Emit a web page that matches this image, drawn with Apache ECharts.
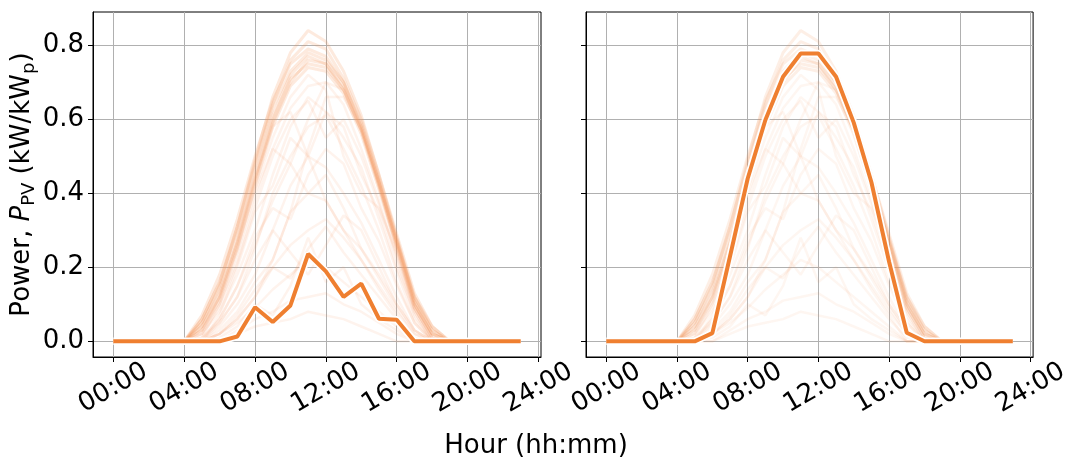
<!DOCTYPE html>
<html>
<head>
<meta charset="utf-8">
<script src="https://cdn.jsdelivr.net/npm/echarts@6.0.0/dist/echarts.min.js"></script>
<style>
  html, body { margin: 0; padding: 0; background: #fff; }
  #chart { width: 1072px; height: 463px; }
</style>
</head>
<body>
<div id="chart"></div>
<script>
// hours of the day, one value per hour
const hours = [0, 1, 2, 3, 4, 5, 6, 7, 8, 9, 10, 11, 12, 13, 14, 15, 16, 17, 18, 19, 20, 21, 22, 23];
const xTicks = [0, 4, 8, 12, 16, 20, 24];
const yTicks = [0, 0.2, 0.4, 0.6, 0.8];

// highlighted day, left panel
const dayLeft = [0, 0, 0, 0, 0, 0, 0, 0.013, 0.092, 0.052, 0.097, 0.236, 0.189, 0.12, 0.156, 0.061, 0.058, 0, 0, 0, 0, 0, 0, 0];
// highlighted day, right panel
const dayRight = [0, 0, 0, 0, 0, 0, 0.022, 0.23, 0.44, 0.598, 0.715, 0.778, 0.778, 0.715, 0.591, 0.43, 0.215, 0.023, 0, 0, 0, 0, 0, 0];

// background days (near clear sky)
const clear1 = [0, 0, 0, 0, 0, 0.06, 0.16, 0.30, 0.47, 0.63, 0.73, 0.78, 0.76, 0.70, 0.59, 0.44, 0.28, 0.12, 0.03, 0, 0, 0, 0, 0];
const clear2 = [0, 0, 0, 0, 0, 0.05, 0.14, 0.28, 0.45, 0.61, 0.72, 0.77, 0.75, 0.68, 0.57, 0.42, 0.26, 0.10, 0.02, 0, 0, 0, 0, 0];
const clear3 = [0, 0, 0, 0, 0, 0.04, 0.12, 0.26, 0.43, 0.59, 0.70, 0.76, 0.75, 0.69, 0.58, 0.43, 0.27, 0.11, 0.03, 0, 0, 0, 0, 0];
const clear4 = [0, 0, 0, 0, 0, 0.03, 0.11, 0.25, 0.42, 0.58, 0.69, 0.74, 0.73, 0.67, 0.56, 0.41, 0.25, 0.09, 0.01, 0, 0, 0, 0, 0];
const clear5 = [0, 0, 0, 0, 0, 0.05, 0.15, 0.31, 0.49, 0.66, 0.78, 0.84, 0.81, 0.73, 0.61, 0.45, 0.28, 0.11, 0.02, 0, 0, 0, 0, 0];
const clear6 = [0, 0, 0, 0, 0, 0.06, 0.16, 0.31, 0.48, 0.64, 0.76, 0.81, 0.79, 0.71, 0.60, 0.45, 0.29, 0.13, 0.04, 0, 0, 0, 0, 0];
const clear7 = [0, 0, 0, 0, 0, 0.04, 0.13, 0.27, 0.44, 0.60, 0.71, 0.75, 0.74, 0.68, 0.57, 0.42, 0.26, 0.10, 0.02, 0, 0, 0, 0, 0];
const clear8 = [0, 0, 0, 0, 0, 0.07, 0.18, 0.33, 0.50, 0.65, 0.75, 0.79, 0.77, 0.70, 0.58, 0.43, 0.27, 0.12, 0.04, 0, 0, 0, 0, 0];
// background days (partly cloudy)
const mid1 = [0, 0, 0, 0, 0, 0.03, 0.10, 0.22, 0.38, 0.52, 0.63, 0.69, 0.70, 0.64, 0.52, 0.38, 0.22, 0.07, 0, 0, 0, 0, 0, 0];
const mid2 = [0, 0, 0, 0, 0, 0.02, 0.08, 0.18, 0.30, 0.45, 0.58, 0.66, 0.62, 0.55, 0.47, 0.33, 0.19, 0.06, 0, 0, 0, 0, 0, 0];
const mid3 = [0, 0, 0, 0, 0, 0, 0.05, 0.12, 0.25, 0.40, 0.50, 0.58, 0.61, 0.52, 0.42, 0.30, 0.16, 0.05, 0, 0, 0, 0, 0, 0];
const mid4 = [0, 0, 0, 0, 0, 0, 0.07, 0.20, 0.35, 0.42, 0.55, 0.50, 0.62, 0.58, 0.45, 0.35, 0.20, 0.08, 0, 0, 0, 0, 0, 0];
const mid5 = [0, 0, 0, 0, 0, 0, 0.04, 0.10, 0.18, 0.30, 0.42, 0.50, 0.47, 0.40, 0.32, 0.22, 0.12, 0.03, 0, 0, 0, 0, 0, 0];
const mid6 = [0, 0, 0, 0, 0, 0, 0.06, 0.15, 0.28, 0.36, 0.33, 0.45, 0.52, 0.48, 0.36, 0.27, 0.15, 0.05, 0, 0, 0, 0, 0, 0];
const mid7 = [0, 0, 0, 0, 0, 0, 0.03, 0.08, 0.16, 0.22, 0.35, 0.40, 0.38, 0.30, 0.25, 0.17, 0.09, 0.02, 0, 0, 0, 0, 0, 0];
const mid8 = [0, 0, 0, 0, 0, 0, 0.02, 0.06, 0.12, 0.20, 0.26, 0.30, 0.33, 0.28, 0.22, 0.14, 0.07, 0, 0, 0, 0, 0, 0, 0];
const mid9 = [0, 0, 0, 0, 0, 0.02, 0.12, 0.27, 0.44, 0.58, 0.62, 0.50, 0.38, 0.30, 0.22, 0.15, 0.08, 0.02, 0, 0, 0, 0, 0, 0];
const mid10 = [0, 0, 0, 0, 0, 0, 0.02, 0.06, 0.12, 0.22, 0.35, 0.52, 0.66, 0.66, 0.57, 0.43, 0.27, 0.10, 0.01, 0, 0, 0, 0, 0];
const mid11 = [0, 0, 0, 0, 0, 0.01, 0.10, 0.24, 0.40, 0.52, 0.48, 0.40, 0.45, 0.36, 0.25, 0.18, 0.10, 0.03, 0, 0, 0, 0, 0, 0];
const mid12 = [0, 0, 0, 0, 0, 0.02, 0.09, 0.21, 0.36, 0.50, 0.60, 0.65, 0.55, 0.60, 0.50, 0.37, 0.23, 0.08, 0, 0, 0, 0, 0, 0];
const mid13 = [0, 0, 0, 0, 0, 0.03, 0.12, 0.25, 0.41, 0.55, 0.66, 0.72, 0.68, 0.50, 0.40, 0.36, 0.24, 0.09, 0.01, 0, 0, 0, 0, 0];
const mid14 = [0, 0, 0, 0, 0, 0.01, 0.06, 0.15, 0.26, 0.38, 0.48, 0.60, 0.70, 0.68, 0.58, 0.42, 0.25, 0.09, 0.01, 0, 0, 0, 0, 0];
// background days (overcast)
const low1 = [0, 0, 0, 0, 0, 0, 0.02, 0.05, 0.09, 0.14, 0.18, 0.22, 0.20, 0.16, 0.12, 0.08, 0.04, 0, 0, 0, 0, 0, 0, 0];
const low2 = [0, 0, 0, 0, 0, 0, 0, 0.03, 0.06, 0.08, 0.11, 0.12, 0.13, 0.10, 0.08, 0.05, 0.02, 0, 0, 0, 0, 0, 0, 0];
const low3 = [0, 0, 0, 0, 0, 0, 0.01, 0.04, 0.10, 0.07, 0.15, 0.28, 0.16, 0.20, 0.10, 0.06, 0.03, 0, 0, 0, 0, 0, 0, 0];
const low4 = [0, 0, 0, 0, 0, 0, 0, 0.02, 0.04, 0.05, 0.06, 0.08, 0.07, 0.06, 0.04, 0.02, 0, 0, 0, 0, 0, 0, 0, 0];
const low5 = [0, 0, 0, 0, 0, 0, 0.02, 0.07, 0.14, 0.20, 0.17, 0.25, 0.31, 0.24, 0.18, 0.12, 0.06, 0.01, 0, 0, 0, 0, 0, 0];
const low6 = [0, 0, 0, 0, 0, 0.01, 0.05, 0.12, 0.22, 0.30, 0.24, 0.18, 0.26, 0.34, 0.30, 0.20, 0.10, 0.03, 0, 0, 0, 0, 0, 0];

const clearDays = [clear1, clear2, clear3, clear4, clear5, clear6, clear7, clear8];
const otherDays = [mid1, mid2, mid3, mid4, mid5, mid6, mid7, mid8, mid9, mid10, mid11, mid12, mid13, mid14,
  low1, low2, low3, low4, low5, low6];

const FONT = 'DejaVu Sans';
const ORANGE = '#ef7f30';
const FAINT = '#f4955a';

const chart = echarts.init(document.getElementById('chart'));

function toPoints(values) {
  return hours.map((h, i) => [h, values[i]]);
}

function hourLabel(v) {
  return String(v).padStart(2, '0') + ':00';
}

function makeX(idx) {
  return {
    type: 'value',
    gridIndex: idx,
    min: -1.15,
    max: 24.15,
    axisLine: { show: true, onZero: false, lineStyle: { color: '#000', width: 1 } },
    axisTick: { show: true, length: 5, customValues: xTicks, lineStyle: { color: '#000', width: 1 } },
    axisLabel: {
      customValues: xTicks,
      formatter: hourLabel,
      rotate: 30,
      align: 'center',
      verticalAlign: 'middle',
      margin: 31,
      fontSize: 26,
      fontFamily: FONT,
      color: '#000'
    },
    splitLine: { show: true, lineStyle: { color: '#b0b0b0', width: 1 } }
  };
}

function makeY(idx) {
  const axis = {
    type: 'value',
    gridIndex: idx,
    min: -0.0424,
    max: 0.89,
    axisLine: { show: true, onZero: false, lineStyle: { color: '#000', width: 1 } },
    axisTick: { show: true, length: 5, customValues: yTicks, lineStyle: { color: '#000', width: 1 } },
    axisLabel: {
      show: idx === 0,
      customValues: yTicks,
      formatter: v => v.toFixed(1),
      margin: 9,
      fontSize: 26,
      fontFamily: FONT,
      color: '#000'
    },
    splitLine: { show: true, lineStyle: { color: '#b0b0b0', width: 1 } }
  };
  if (idx === 0) {
    axis.name = '{a|Power, }{i|P}{s|PV}{a| (kW/kW}{s|p}{a|)}';
    axis.nameLocation = 'middle';
    axis.nameRotate = 90;
    axis.nameGap = 52;
    axis.nameTextStyle = {
      rich: {
        a: { fontSize: 26, fontFamily: FONT, color: '#000', verticalAlign: 'top' },
        i: { fontSize: 26, fontFamily: FONT, fontStyle: 'italic', color: '#000', verticalAlign: 'top' },
        s: { fontSize: 18, lineHeight: 18, fontFamily: FONT, color: '#000', verticalAlign: 'top', padding: [12, 0, 0, 0] }
      }
    };
  }
  return axis;
}

const series = [];
[0, 1].forEach(p => {
  const fade = p === 0 ? 1 : 0.75;
  clearDays.forEach(d => {
    series.push({
      type: 'line', xAxisIndex: p, yAxisIndex: p, data: toPoints(d),
      symbol: 'none', silent: true, z: 2,
      lineStyle: { color: FAINT, width: 3, opacity: 0.2 * fade }
    });
  });
  otherDays.forEach(d => {
    series.push({
      type: 'line', xAxisIndex: p, yAxisIndex: p, data: toPoints(d),
      symbol: 'none', silent: true, z: 2,
      lineStyle: { color: FAINT, width: 2.5, opacity: 0.11 * fade }
    });
  });
  const day = p === 0 ? dayLeft : dayRight;
  series.push({
    type: 'line', xAxisIndex: p, yAxisIndex: p, data: toPoints(day),
    symbol: 'none', silent: true, z: 3,
    lineStyle: { color: '#fff', width: 7.5 }
  });
  series.push({
    type: 'line', xAxisIndex: p, yAxisIndex: p, data: toPoints(day),
    symbol: 'none', silent: true, z: 4,
    lineStyle: { color: ORANGE, width: 4 }
  });
});

chart.setOption({
  animation: false,
  backgroundColor: '#fff',
  grid: [
    { left: 93, top: 12, width: 448, height: 345, show: true, borderColor: '#000', borderWidth: 1 },
    { left: 586, top: 12, width: 448, height: 345, show: true, borderColor: '#000', borderWidth: 1 }
  ],
  xAxis: [makeX(0), makeX(1)],
  yAxis: [makeY(0), makeY(1)],
  graphic: [{
    type: 'text',
    left: 'center',
    top: 433,
    style: { text: 'Hour (hh:mm)', fontSize: 26, fontFamily: FONT, fill: '#000' }
  }],
  series: series
});
</script>
</body>
</html>
